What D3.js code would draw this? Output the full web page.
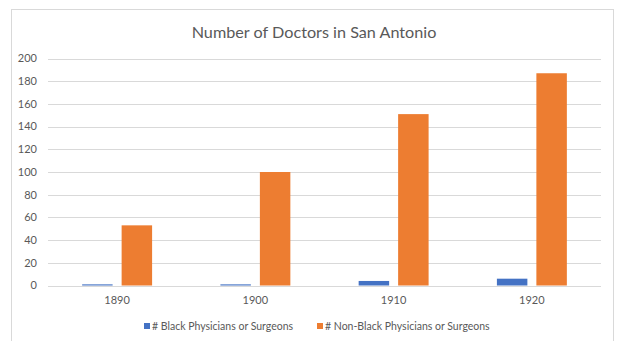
<!DOCTYPE html>
<html>
<head>
<meta charset="utf-8">
<script src="https://cdn.jsdelivr.net/npm/d3@7"></script>
<style>
	body { margin: 0; background: #fff; }
	text { font-family: Lato, "Open Sans", sans-serif; fill: #595959; }
</style>
</head>
<body>
<svg id="chart" width="617" height="341"></svg>
<script>
const years = ['1890', '1900', '1910', '1920']
const seriesNames = ['# Black Physicians or Surgeons', '# Non-Black Physicians or Surgeons']
const blackDoctors = [1, 1, 4, 6]
const nonBlackDoctors = [53, 100, 151, 187]
const yTicks = [0, 20, 40, 60, 80, 100, 120, 140, 160, 180, 200]
const colors = ['#4472C4', '#ED7D31']

const svg = d3.select('#chart')
const plotLeft = 48, plotRight = 601, plotTop = 58.5, plotBottom = 285.5

// chart border
svg.append('rect')
	.attr('x', 11.5).attr('y', 9.5)
	.attr('width', 602).attr('height', 340)
	.attr('fill', 'none').attr('stroke', '#d9d9d9')

svg.append('text')
	.attr('x', 314).attr('y', 38)
	.attr('text-anchor', 'middle')
	.attr('font-size', 16.2)
	.text('Number of Doctors in San Antonio')

const y = d3.scaleLinear().domain([0, 200]).range([plotBottom, plotTop])
const x0 = d3.scaleBand().domain(years).range([plotLeft, plotRight]).paddingInner(0.494).paddingOuter(0.247)
const x1 = d3.scaleBand().domain([0, 1]).range([0, x0.bandwidth()]).paddingInner(0.228)

// gridlines and y labels
const grid = svg.append('g')
grid.selectAll('line').data(yTicks).join('line')
	.attr('x1', plotLeft).attr('x2', plotRight)
	.attr('y1', d => Math.round(y(d)) + 0.5).attr('y2', d => Math.round(y(d)) + 0.5)
	.attr('stroke', '#d9d9d9')
grid.selectAll('text').data(yTicks).join('text')
	.attr('x', 37).attr('y', d => y(d))
	.attr('dy', '0.35em')
	.attr('text-anchor', 'end')
	.attr('font-size', 11)
	.text(d => d)

// bars
const rows = years.map((yr, i) => ({ year: yr, vals: [blackDoctors[i], nonBlackDoctors[i]] }))
const groups = svg.append('g').selectAll('g').data(rows).join('g')
	.attr('transform', d => `translate(${x0(d.year)},0)`)
groups.selectAll('rect').data(d => d.vals.map((v, k) => ({ k, v }))).join('rect')
	.attr('x', d => x1(d.k))
	.attr('width', x1.bandwidth())
	.attr('y', d => y(d.v))
	.attr('height', d => plotBottom - y(d.v))
	.attr('fill', d => colors[d.k])

// x labels
svg.append('g').selectAll('text').data(years).join('text')
	.attr('x', d => x0(d) + x0.bandwidth() / 2)
	.attr('y', 304)
	.attr('text-anchor', 'middle')
	.attr('font-size', 11)
	.text(d => d)

// legend
const legendX = [144, 317]
const legend = svg.append('g').selectAll('g').data(seriesNames).join('g')
	.attr('transform', (d, i) => `translate(${legendX[i]},323)`)
legend.append('rect')
	.attr('width', 6).attr('height', 6)
	.attr('fill', (d, i) => colors[i])
legend.append('text')
	.attr('x', 8).attr('y', 3)
	.attr('dy', '0.35em')
	.attr('font-size', 10.5)
	.text(d => d)
</script>
</body>
</html>
